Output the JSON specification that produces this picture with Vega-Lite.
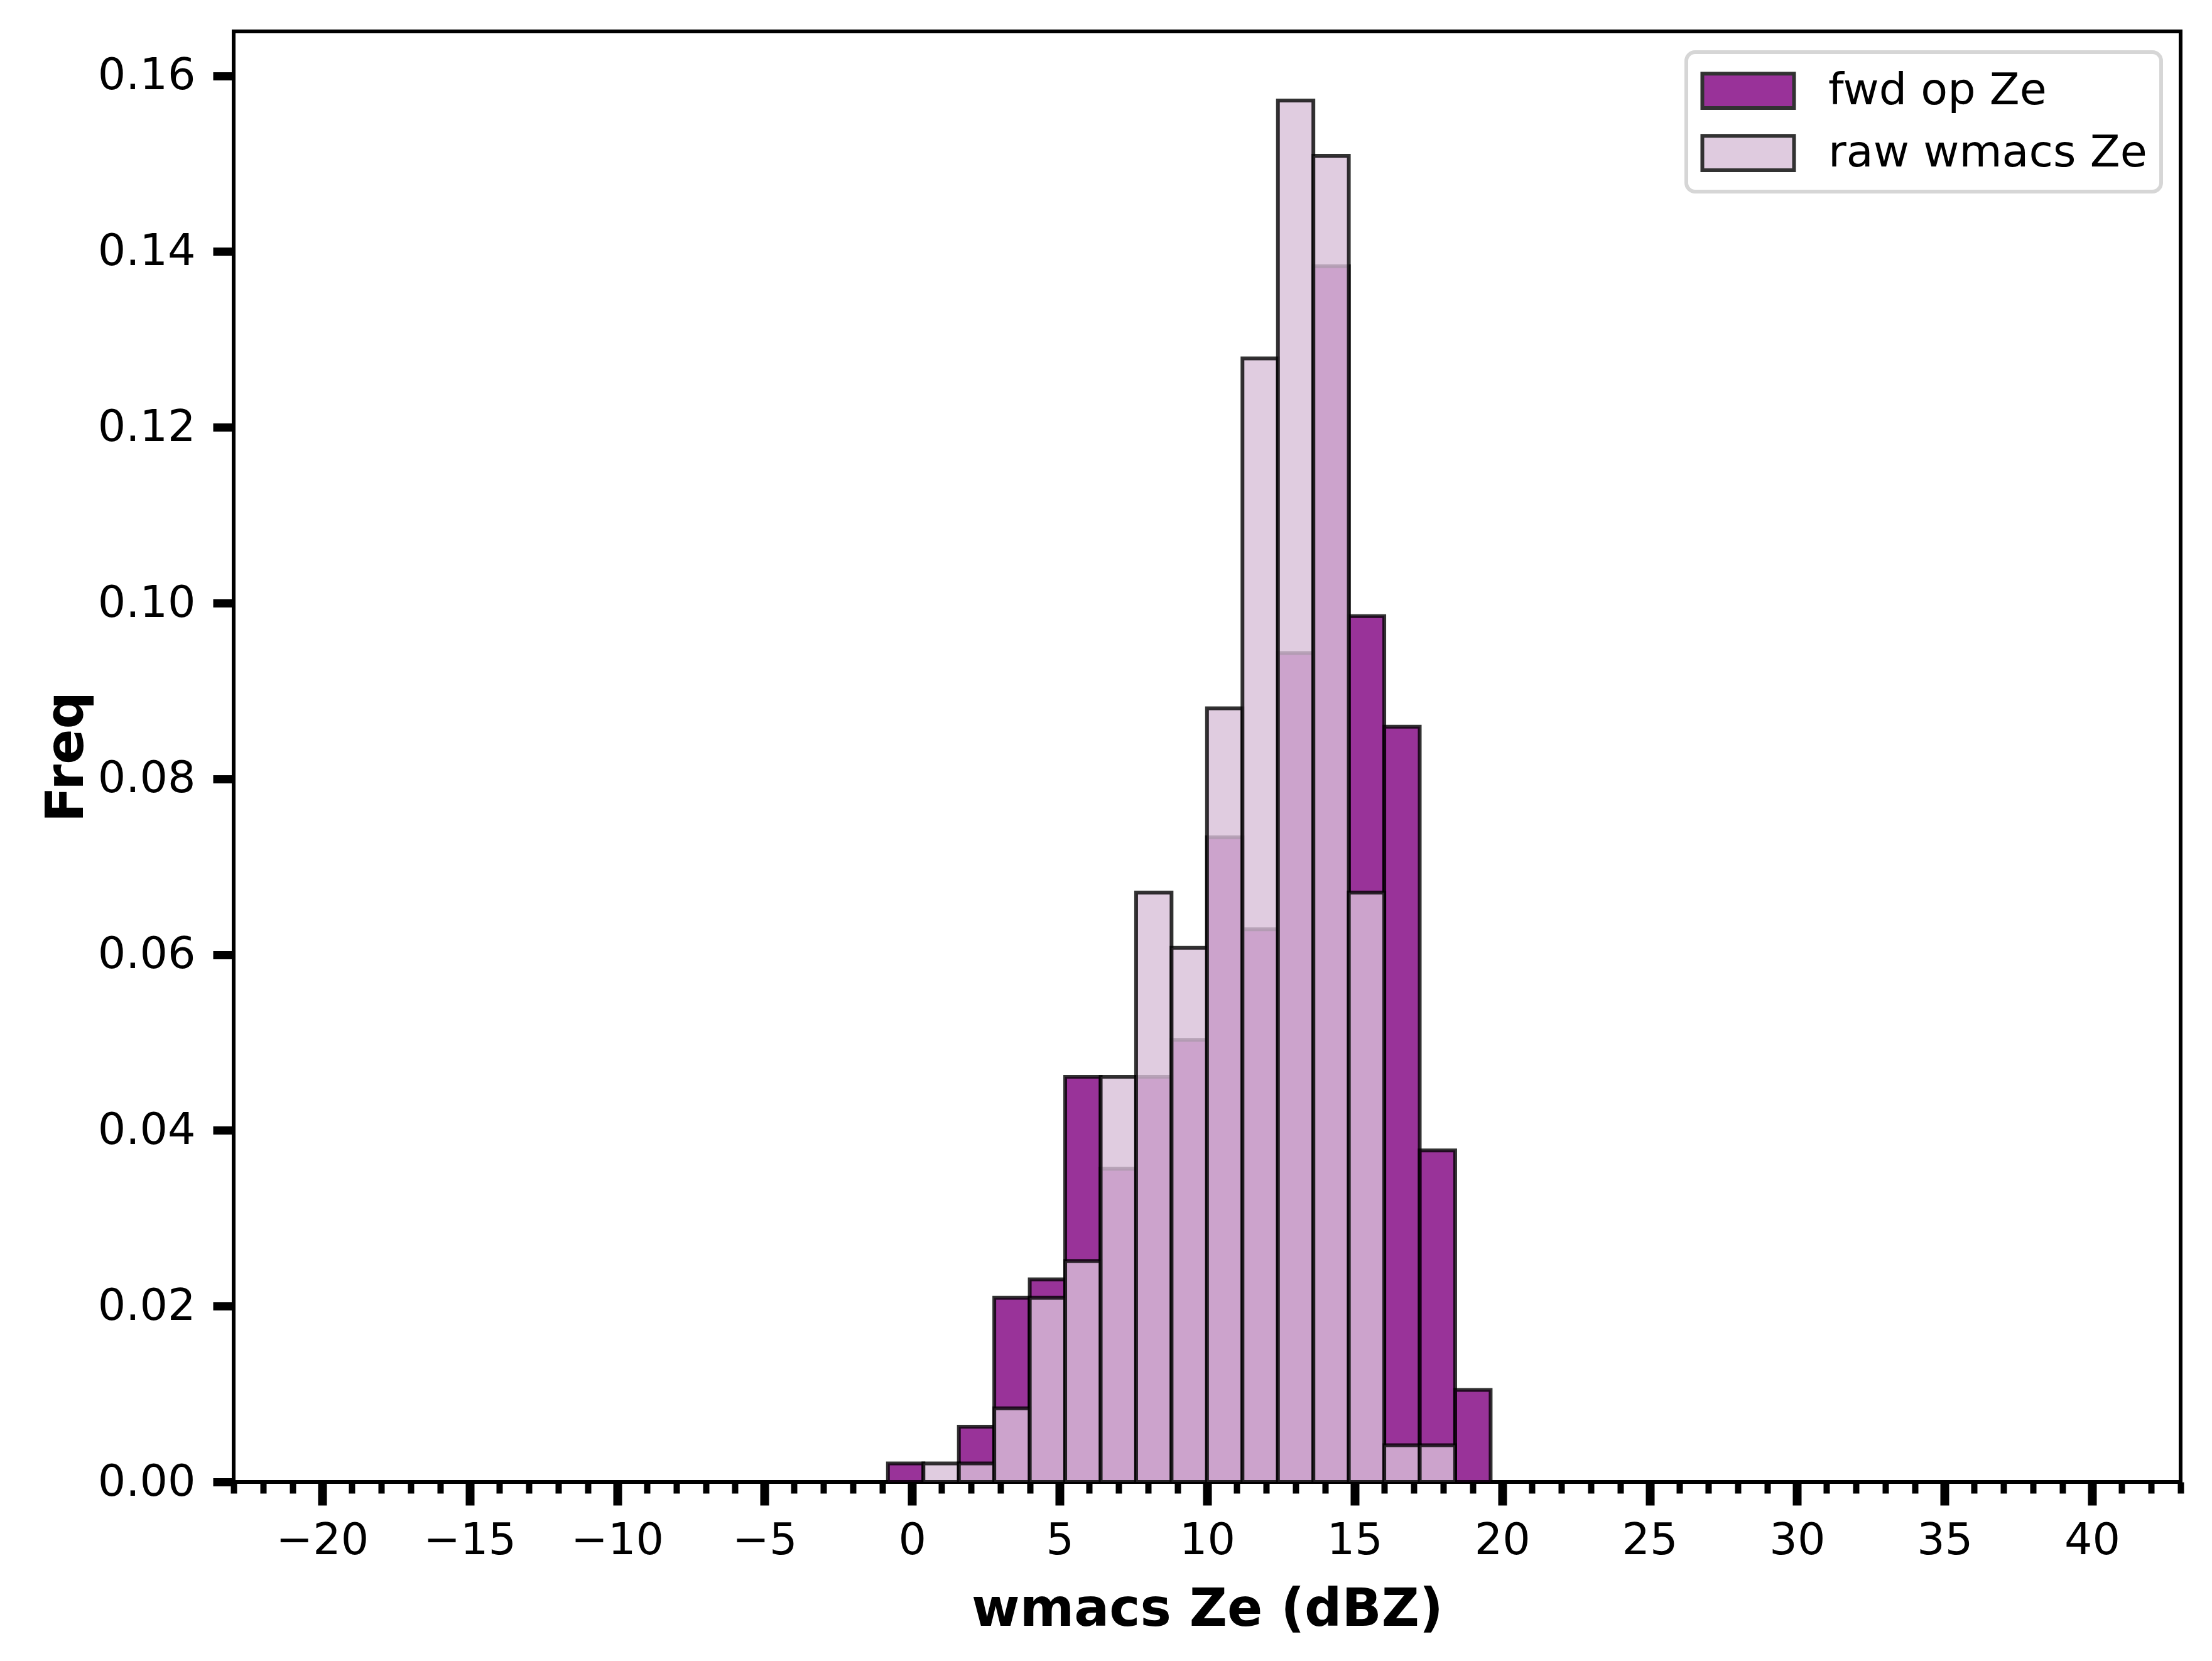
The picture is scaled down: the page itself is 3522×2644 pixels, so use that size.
{
  "$schema": "https://vega.github.io/schema/vega-lite/v6.json",
  "width": 3100,
  "height": 2309,
  "autosize": {"type": "none"},
  "padding": {"left": 372, "top": 50, "right": 50, "bottom": 285},
  "background": "white",
  "data": {
    "values": [
      {"series": "fwd op Ze", "bin_start": -0.820, "bin_end": 0.382, "freq": 0.00210},
      {"series": "fwd op Ze", "bin_start": 1.584, "bin_end": 2.785, "freq": 0.00629},
      {"series": "fwd op Ze", "bin_start": 2.785, "bin_end": 3.987, "freq": 0.02096},
      {"series": "fwd op Ze", "bin_start": 3.987, "bin_end": 5.189, "freq": 0.02305},
      {"series": "fwd op Ze", "bin_start": 5.189, "bin_end": 6.391, "freq": 0.04611},
      {"series": "fwd op Ze", "bin_start": 6.391, "bin_end": 7.593, "freq": 0.03563},
      {"series": "fwd op Ze", "bin_start": 7.593, "bin_end": 8.794, "freq": 0.04611},
      {"series": "fwd op Ze", "bin_start": 8.794, "bin_end": 9.996, "freq": 0.05030},
      {"series": "fwd op Ze", "bin_start": 9.996, "bin_end": 11.198, "freq": 0.07336},
      {"series": "fwd op Ze", "bin_start": 11.198, "bin_end": 12.400, "freq": 0.06288},
      {"series": "fwd op Ze", "bin_start": 12.400, "bin_end": 13.602, "freq": 0.09432},
      {"series": "fwd op Ze", "bin_start": 13.602, "bin_end": 14.803, "freq": 0.13833},
      {"series": "fwd op Ze", "bin_start": 14.803, "bin_end": 16.005, "freq": 0.09851},
      {"series": "fwd op Ze", "bin_start": 16.005, "bin_end": 17.207, "freq": 0.08593},
      {"series": "fwd op Ze", "bin_start": 17.207, "bin_end": 18.409, "freq": 0.03773},
      {"series": "fwd op Ze", "bin_start": 18.409, "bin_end": 19.611, "freq": 0.01048},
      {"series": "raw wmacs Ze", "bin_start": 0.382, "bin_end": 1.584, "freq": 0.00210},
      {"series": "raw wmacs Ze", "bin_start": 1.584, "bin_end": 2.785, "freq": 0.00210},
      {"series": "raw wmacs Ze", "bin_start": 2.785, "bin_end": 3.987, "freq": 0.00838},
      {"series": "raw wmacs Ze", "bin_start": 3.987, "bin_end": 5.189, "freq": 0.02096},
      {"series": "raw wmacs Ze", "bin_start": 5.189, "bin_end": 6.391, "freq": 0.02515},
      {"series": "raw wmacs Ze", "bin_start": 6.391, "bin_end": 7.593, "freq": 0.04611},
      {"series": "raw wmacs Ze", "bin_start": 7.593, "bin_end": 8.794, "freq": 0.06707},
      {"series": "raw wmacs Ze", "bin_start": 8.794, "bin_end": 9.996, "freq": 0.06078},
      {"series": "raw wmacs Ze", "bin_start": 9.996, "bin_end": 11.198, "freq": 0.08803},
      {"series": "raw wmacs Ze", "bin_start": 11.198, "bin_end": 12.400, "freq": 0.12785},
      {"series": "raw wmacs Ze", "bin_start": 12.400, "bin_end": 13.602, "freq": 0.15719},
      {"series": "raw wmacs Ze", "bin_start": 13.602, "bin_end": 14.803, "freq": 0.15090},
      {"series": "raw wmacs Ze", "bin_start": 14.803, "bin_end": 16.005, "freq": 0.06707},
      {"series": "raw wmacs Ze", "bin_start": 16.005, "bin_end": 17.207, "freq": 0.00419},
      {"series": "raw wmacs Ze", "bin_start": 17.207, "bin_end": 18.409, "freq": 0.00419}
    ]
  },
  "mark": {
    "type": "bar",
    "fillOpacity": 0.8,
    "stroke": "black",
    "strokeOpacity": 0.8,
    "strokeWidth": 6
  },
  "encoding": {
    "x": {
      "field": "bin_start",
      "type": "quantitative",
      "title": "wmacs Ze (dBZ)",
      "scale": {"domain": [-23, 43], "nice": false, "zero": false},
      "axis": {
        "values": [-23, -22, -21, -20, -19, -18, -17, -16, -15, -14, -13, -12, -11, -10, -9, -8, -7, -6, -5, -4, -3, -2, -1, 0, 1, 2, 3, 4, 5, 6, 7, 8, 9, 10, 11, 12, 13, 14, 15, 16, 17, 18, 19, 20, 21, 22, 23, 24, 25, 26, 27, 28, 29, 30, 31, 32, 33, 34, 35, 36, 37, 38, 39, 40, 41, 42, 43],
        "labelExpr": "datum.value % 5 === 0 ? format(datum.value, 'd') : ''",
        "tickSize": {"condition": {"test": "datum.value % 5 === 0", "value": 37}, "value": 18},
        "tickWidth": {"condition": {"test": "datum.value % 5 === 0", "value": 14}, "value": 10},
        "labelPadding": 22,
        "labelOverlap": false,
        "labelFlush": false,
        "titlePadding": 34
      }
    },
    "x2": {"field": "bin_end"},
    "y": {
      "field": "freq",
      "type": "quantitative",
      "title": "Freq",
      "scale": {"domain": [0, 0.16505], "nice": false},
      "axis": {
        "values": [0, 0.02, 0.04, 0.06, 0.08, 0.1, 0.12, 0.14, 0.16],
        "format": ".2f",
        "tickSize": 33,
        "tickWidth": 13,
        "labelPadding": 28,
        "titlePadding": 24
      }
    },
    "y2": {"datum": 0},
    "color": {
      "field": "series",
      "type": "nominal",
      "scale": {"domain": ["fwd op Ze", "raw wmacs Ze"], "range": ["#800080", "#D8BFD8"]},
      "legend": {
        "title": null,
        "orient": "none",
        "legendX": 2313,
        "legendY": 33,
        "symbolType": "M-2,-0.75H2V0.75H-2Z",
        "symbolSize": 5329,
        "symbolOffset": 37,
        "symbolStrokeColor": "black",
        "symbolStrokeWidth": 6,
        "symbolOpacity": 0.8,
        "labelFontSize": 70,
        "labelFont": "DejaVu Sans",
        "labelColor": "black",
        "labelOffset": 88,
        "labelLimit": 0,
        "rowPadding": 20,
        "padding": 22,
        "strokeColor": "#d6d6d6",
        "fillColor": "white",
        "cornerRadius": 14
      }
    }
  },
  "config": {
    "view": {"stroke": "black", "strokeWidth": 6},
    "font": "DejaVu Sans",
    "axis": {
      "domain": false,
      "grid": false,
      "tickColor": "black",
      "labelColor": "black",
      "labelFont": "DejaVu Sans",
      "labelFontSize": 70,
      "titleFont": "DejaVu Sans",
      "titleFontSize": 83,
      "titleFontWeight": "bold",
      "titleColor": "black"
    },
    "legend": {"strokeWidth": 6}
  }
}
